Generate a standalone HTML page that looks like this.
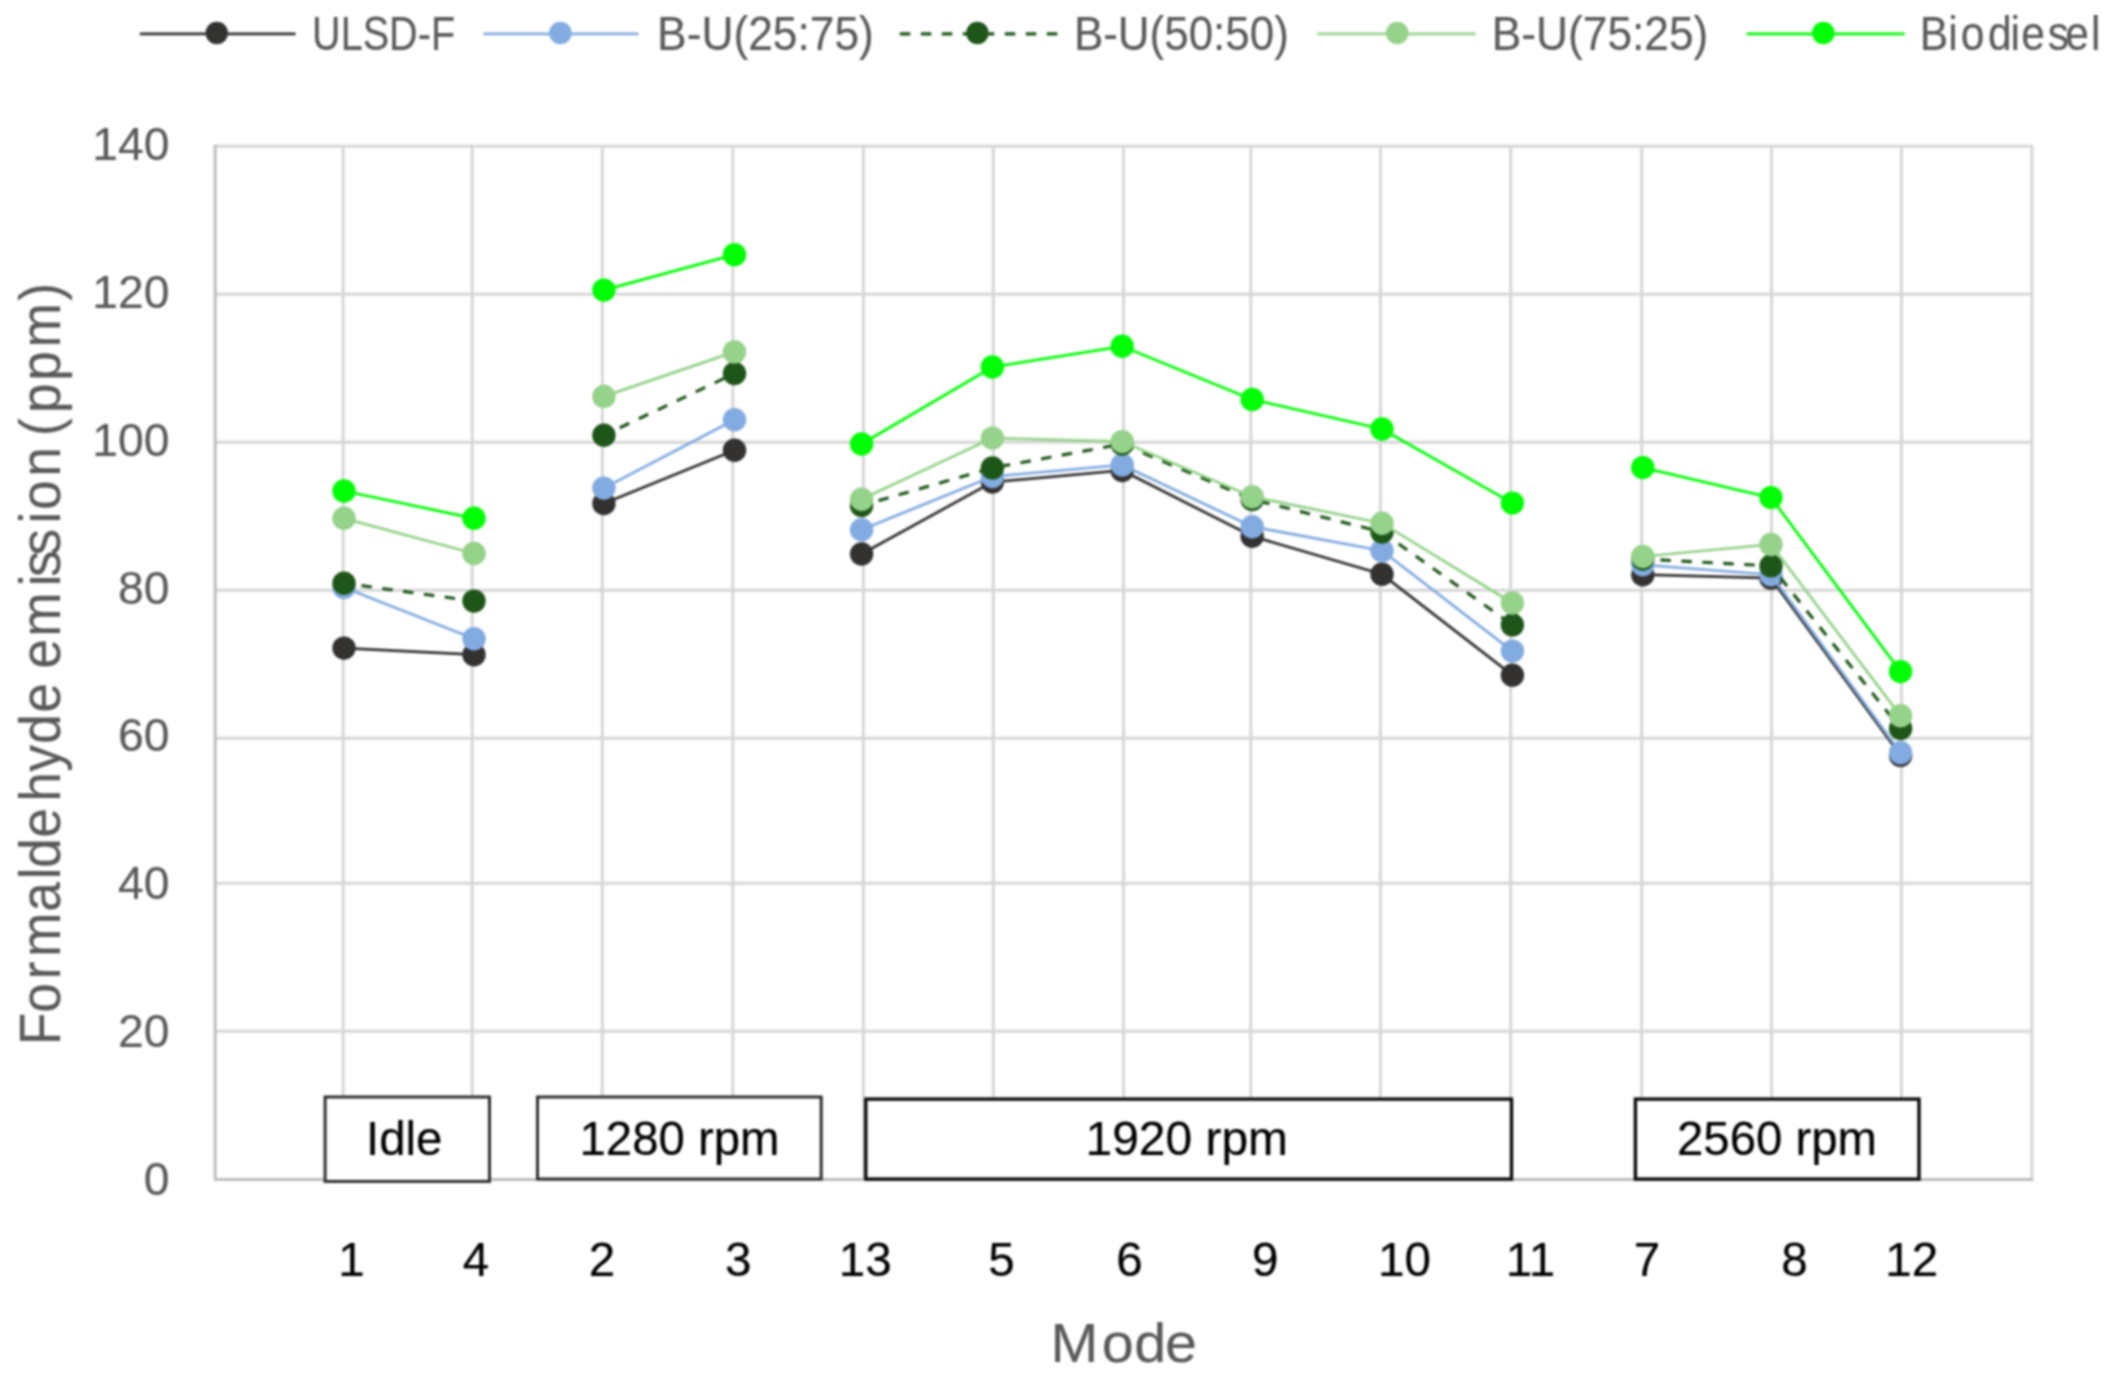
<!DOCTYPE html>
<html lang="en"><head><meta charset="utf-8"><title>Formaldehyde emission by mode</title>
<style>html,body{margin:0;padding:0;background:#fff;overflow:hidden}svg{display:block}text{font-family:"Liberation Sans", sans-serif}</style>
</head><body>
<svg width="2110" height="1382" viewBox="0 0 2110 1382">
<rect width="2110" height="1382" fill="#ffffff"/>
<g style="filter:blur(1.15px)">
<rect width="2110" height="1382" fill="#ffffff"/>
<g stroke="#d6d6d6" stroke-width="3" fill="none">
<line x1="215.2" y1="1031.3" x2="2033.4" y2="1031.3"/>
<line x1="215.2" y1="883.3" x2="2033.4" y2="883.3"/>
<line x1="215.2" y1="738.3" x2="2033.4" y2="738.3"/>
<line x1="215.2" y1="590.3" x2="2033.4" y2="590.3"/>
<line x1="215.2" y1="442.3" x2="2033.4" y2="442.3"/>
<line x1="215.2" y1="294.2" x2="2033.4" y2="294.2"/>
<line x1="215.2" y1="146.2" x2="2033.4" y2="146.2"/>
<line x1="343.1" y1="146.2" x2="343.1" y2="1179.4"/>
<line x1="472.2" y1="146.2" x2="472.2" y2="1179.4"/>
<line x1="602.3" y1="146.2" x2="602.3" y2="1179.4"/>
<line x1="732.8" y1="146.2" x2="732.8" y2="1179.4"/>
<line x1="863.4" y1="146.2" x2="863.4" y2="1179.4"/>
<line x1="993.3" y1="146.2" x2="993.3" y2="1179.4"/>
<line x1="1123.6" y1="146.2" x2="1123.6" y2="1179.4"/>
<line x1="1250.8" y1="146.2" x2="1250.8" y2="1179.4"/>
<line x1="1380.4" y1="146.2" x2="1380.4" y2="1179.4"/>
<line x1="1510.7" y1="146.2" x2="1510.7" y2="1179.4"/>
<line x1="1641.7" y1="146.2" x2="1641.7" y2="1179.4"/>
<line x1="1771.6" y1="146.2" x2="1771.6" y2="1179.4"/>
<line x1="1901.5" y1="146.2" x2="1901.5" y2="1179.4"/>
<line x1="2031.9" y1="146.2" x2="2031.9" y2="1179.4"/>
</g>
<g stroke="#bdbdbd" stroke-width="3" fill="none">
<line x1="215.2" y1="144.7" x2="215.2" y2="1180.9"/>
<line x1="215.2" y1="1179.4" x2="2033.4" y2="1179.4"/>
</g>
<g fill="#595959" stroke="#595959" stroke-width="0.15" font-size="46.3" text-anchor="end">
<text x="169.6" y="1195.2">0</text>
<text x="169.6" y="1047.3">20</text>
<text x="169.6" y="899.4">40</text>
<text x="169.6" y="751.4">60</text>
<text x="169.6" y="603.5">80</text>
<text x="169.6" y="455.6">100</text>
<text x="169.6" y="307.6">120</text>
<text x="169.6" y="159.7">140</text>
</g>
<g stroke="#333231" stroke-width="2.75" fill="none">
<polyline points="344.0,648.1 474.0,654.7"/>
<polyline points="603.9,503.6 734.5,450.3"/>
<polyline points="861.6,554.0 992.4,482.1 1122.2,470.5 1252.2,536.3 1382.0,574.3 1512.4,675.2"/>
<polyline points="1642.8,574.7 1771.0,578.2 1900.6,755.4"/>
</g>
<g fill="#333231">
<circle cx="344.0" cy="648.1" r="11.7"/>
<circle cx="474.0" cy="654.7" r="11.7"/>
<circle cx="603.9" cy="503.6" r="11.7"/>
<circle cx="734.5" cy="450.3" r="11.7"/>
<circle cx="861.6" cy="554.0" r="11.7"/>
<circle cx="992.4" cy="482.1" r="11.7"/>
<circle cx="1122.2" cy="470.5" r="11.7"/>
<circle cx="1252.2" cy="536.3" r="11.7"/>
<circle cx="1382.0" cy="574.3" r="11.7"/>
<circle cx="1512.4" cy="675.2" r="11.7"/>
<circle cx="1642.8" cy="574.7" r="11.7"/>
<circle cx="1771.0" cy="578.2" r="11.7"/>
<circle cx="1900.6" cy="755.4" r="11.7"/>
</g>
<g stroke="#82abe1" stroke-width="2.75" fill="none">
<polyline points="344.0,587.5 474.0,638.7"/>
<polyline points="603.9,488.1 734.5,419.8"/>
<polyline points="861.6,529.7 992.4,476.6 1122.2,464.9 1252.2,526.7 1382.0,550.7 1512.4,651.1"/>
<polyline points="1642.8,564.8 1771.0,574.7 1900.6,752.7"/>
</g>
<g fill="#82abe1">
<circle cx="344.0" cy="587.5" r="11.7"/>
<circle cx="474.0" cy="638.7" r="11.7"/>
<circle cx="603.9" cy="488.1" r="11.7"/>
<circle cx="734.5" cy="419.8" r="11.7"/>
<circle cx="861.6" cy="529.7" r="11.7"/>
<circle cx="992.4" cy="476.6" r="11.7"/>
<circle cx="1122.2" cy="464.9" r="11.7"/>
<circle cx="1252.2" cy="526.7" r="11.7"/>
<circle cx="1382.0" cy="550.7" r="11.7"/>
<circle cx="1512.4" cy="651.1" r="11.7"/>
<circle cx="1642.8" cy="564.8" r="11.7"/>
<circle cx="1771.0" cy="574.7" r="11.7"/>
<circle cx="1900.6" cy="752.7" r="11.7"/>
</g>
<g stroke="#1e5619" stroke-width="3.15" fill="none" stroke-dasharray="10.5 10.5" stroke-dashoffset="3.4">
<polyline points="344.0,583.2 474.0,601.1"/>
<polyline points="603.9,435.3 734.5,373.5"/>
<polyline points="861.6,505.5 992.4,467.9 1122.2,444.0 1252.2,499.4 1382.0,532.0 1512.4,624.9"/>
<polyline points="1642.8,559.0 1771.0,565.9 1900.6,728.6"/>
</g>
<g fill="#1e5619">
<circle cx="344.0" cy="583.2" r="11.7"/>
<circle cx="474.0" cy="601.1" r="11.7"/>
<circle cx="603.9" cy="435.3" r="11.7"/>
<circle cx="734.5" cy="373.5" r="11.7"/>
<circle cx="861.6" cy="505.5" r="11.7"/>
<circle cx="992.4" cy="467.9" r="11.7"/>
<circle cx="1122.2" cy="444.0" r="11.7"/>
<circle cx="1252.2" cy="499.4" r="11.7"/>
<circle cx="1382.0" cy="532.0" r="11.7"/>
<circle cx="1512.4" cy="624.9" r="11.7"/>
<circle cx="1642.8" cy="559.0" r="11.7"/>
<circle cx="1771.0" cy="565.9" r="11.7"/>
<circle cx="1900.6" cy="728.6" r="11.7"/>
</g>
<g stroke="#95d28a" stroke-width="2.75" fill="none">
<polyline points="344.0,518.3 474.0,553.5"/>
<polyline points="603.9,396.4 734.5,351.9"/>
<polyline points="861.6,499.3 992.4,438.1 1122.2,441.6 1252.2,496.7 1382.0,523.2 1512.4,603.0"/>
<polyline points="1642.8,556.5 1771.0,544.5 1900.6,715.8"/>
</g>
<g fill="#95d28a">
<circle cx="344.0" cy="518.3" r="11.7"/>
<circle cx="474.0" cy="553.5" r="11.7"/>
<circle cx="603.9" cy="396.4" r="11.7"/>
<circle cx="734.5" cy="351.9" r="11.7"/>
<circle cx="861.6" cy="499.3" r="11.7"/>
<circle cx="992.4" cy="438.1" r="11.7"/>
<circle cx="1122.2" cy="441.6" r="11.7"/>
<circle cx="1252.2" cy="496.7" r="11.7"/>
<circle cx="1382.0" cy="523.2" r="11.7"/>
<circle cx="1512.4" cy="603.0" r="11.7"/>
<circle cx="1642.8" cy="556.5" r="11.7"/>
<circle cx="1771.0" cy="544.5" r="11.7"/>
<circle cx="1900.6" cy="715.8" r="11.7"/>
</g>
<g stroke="#00fe04" stroke-width="2.75" fill="none">
<polyline points="344.0,491.0 474.0,518.3"/>
<polyline points="603.9,290.1 734.5,254.7"/>
<polyline points="861.6,444.0 992.4,367.0 1122.2,346.3 1252.2,399.5 1382.0,429.0 1512.4,503.1"/>
<polyline points="1642.8,467.6 1771.0,497.6 1900.6,671.6"/>
</g>
<g fill="#00fe04">
<circle cx="344.0" cy="491.0" r="11.7"/>
<circle cx="474.0" cy="518.3" r="11.7"/>
<circle cx="603.9" cy="290.1" r="11.7"/>
<circle cx="734.5" cy="254.7" r="11.7"/>
<circle cx="861.6" cy="444.0" r="11.7"/>
<circle cx="992.4" cy="367.0" r="11.7"/>
<circle cx="1122.2" cy="346.3" r="11.7"/>
<circle cx="1252.2" cy="399.5" r="11.7"/>
<circle cx="1382.0" cy="429.0" r="11.7"/>
<circle cx="1512.4" cy="503.1" r="11.7"/>
<circle cx="1642.8" cy="467.6" r="11.7"/>
<circle cx="1771.0" cy="497.6" r="11.7"/>
<circle cx="1900.6" cy="671.6" r="11.7"/>
</g>
<rect x="325.1" y="1097.0" width="164.4" height="84.4" fill="#ffffff" stroke="#2e2e2e" stroke-width="3.0"/>
<text x="366.0" y="1154.5" font-size="47.6" fill="#000000" stroke="#000000" stroke-width="0.2" textLength="76.5" lengthAdjust="spacingAndGlyphs">Idle</text>
<rect x="537.5" y="1097.0" width="283.7" height="82.0" fill="#ffffff" stroke="#2e2e2e" stroke-width="3.0"/>
<text x="579.5" y="1154.5" font-size="47.6" fill="#000000" stroke="#000000" stroke-width="0.2" textLength="200.0" lengthAdjust="spacingAndGlyphs">1280 rpm</text>
<rect x="865.8" y="1099.1" width="645.7" height="80.0" fill="#ffffff" stroke="#0a0a0a" stroke-width="3.4"/>
<text x="1085.5" y="1154.5" font-size="47.6" fill="#000000" stroke="#000000" stroke-width="0.2" textLength="202.5" lengthAdjust="spacingAndGlyphs">1920 rpm</text>
<rect x="1635.4" y="1099.1" width="283.6" height="80.0" fill="#ffffff" stroke="#0a0a0a" stroke-width="3.4"/>
<text x="1677.0" y="1154.5" font-size="47.6" fill="#000000" stroke="#000000" stroke-width="0.2" textLength="200.0" lengthAdjust="spacingAndGlyphs">2560 rpm</text>
<g fill="#000000" stroke="#000000" stroke-width="0.2" font-size="47.6" text-anchor="middle">
<text x="351.4" y="1275.7">1</text>
<text x="475.9" y="1275.7">4</text>
<text x="601.9" y="1275.7">2</text>
<text x="738.3" y="1275.7">3</text>
<text x="865.2" y="1275.7">13</text>
<text x="1001.4" y="1275.7">5</text>
<text x="1129.5" y="1275.7">6</text>
<text x="1265.2" y="1275.7">9</text>
<text x="1404.5" y="1275.7">10</text>
<text x="1530.5" y="1275.7">11</text>
<text x="1646.9" y="1275.7">7</text>
<text x="1794.4" y="1275.7">8</text>
<text x="1911.8" y="1275.7">12</text>
</g>
<text transform="translate(0,1361.5) scale(1.03,1)" font-size="55.8" fill="#595959" stroke="#595959" stroke-width="0.15" x="1019.8 1069.6 1101.3 1131.2" y="0">Mode</text>
<text transform="translate(59.9,1100.0) rotate(-90) scale(0.930,1)" font-size="57.5" fill="#595959" stroke="#595959" stroke-width="0.15" x="58.8 93.8 129.5 153.8 202.5 237.4 249.5 282.0 320.7 352.9 382.9 416.4 448.0 463.6 498.1 552.5 562.5 585.6 620.0 634.5 670.2 700.0 713.9 738.8 773.5 809.2 859.4" y="0">Formaldehyde emission (ppm)</text>
<line x1="139.8" y1="33.9" x2="295.6" y2="33.9" stroke="#333231" stroke-width="2.75"/>
<circle cx="216.8" cy="33.0" r="11.2" fill="#333231"/>
<text x="312.1" y="50.2" font-size="47.3" fill="#595959" stroke="#595959" stroke-width="0.15" textLength="143.0" lengthAdjust="spacingAndGlyphs">ULSD-F</text>
<line x1="483.3" y1="33.9" x2="638.4" y2="33.9" stroke="#82abe1" stroke-width="2.75"/>
<circle cx="560.4" cy="33.0" r="11.2" fill="#82abe1"/>
<text x="657.1" y="50.2" font-size="47.3" fill="#595959" stroke="#595959" stroke-width="0.15" textLength="216.7" lengthAdjust="spacingAndGlyphs">B-U(25:75)</text>
<line x1="899.8" y1="33.9" x2="1057.3" y2="33.9" stroke="#1e5619" stroke-width="3.15" stroke-dasharray="10.5 10.5"/>
<circle cx="977.4" cy="33.0" r="11.2" fill="#1e5619"/>
<text x="1073.9" y="50.2" font-size="47.3" fill="#595959" stroke="#595959" stroke-width="0.15" textLength="214.9" lengthAdjust="spacingAndGlyphs">B-U(50:50)</text>
<line x1="1317.3" y1="33.9" x2="1475.6" y2="33.9" stroke="#95d28a" stroke-width="2.75"/>
<circle cx="1397.2" cy="33.0" r="11.2" fill="#95d28a"/>
<text x="1491.8" y="50.2" font-size="47.3" fill="#595959" stroke="#595959" stroke-width="0.15" textLength="216.5" lengthAdjust="spacingAndGlyphs">B-U(75:25)</text>
<line x1="1746.6" y1="33.9" x2="1904.7" y2="33.9" stroke="#00fe04" stroke-width="2.75"/>
<circle cx="1823.3" cy="33.0" r="11.2" fill="#00fe04"/>
<text transform="translate(0,50.0) scale(0.9,1)" font-size="47.3" fill="#595959" stroke="#595959" stroke-width="0.15" x="2133.1 2164.7 2178.7 2208.8 2233.8 2245.9 2275.3 2294.8 2323.3" y="0">Biodiesel</text>
</g>
</svg>
</body></html>
